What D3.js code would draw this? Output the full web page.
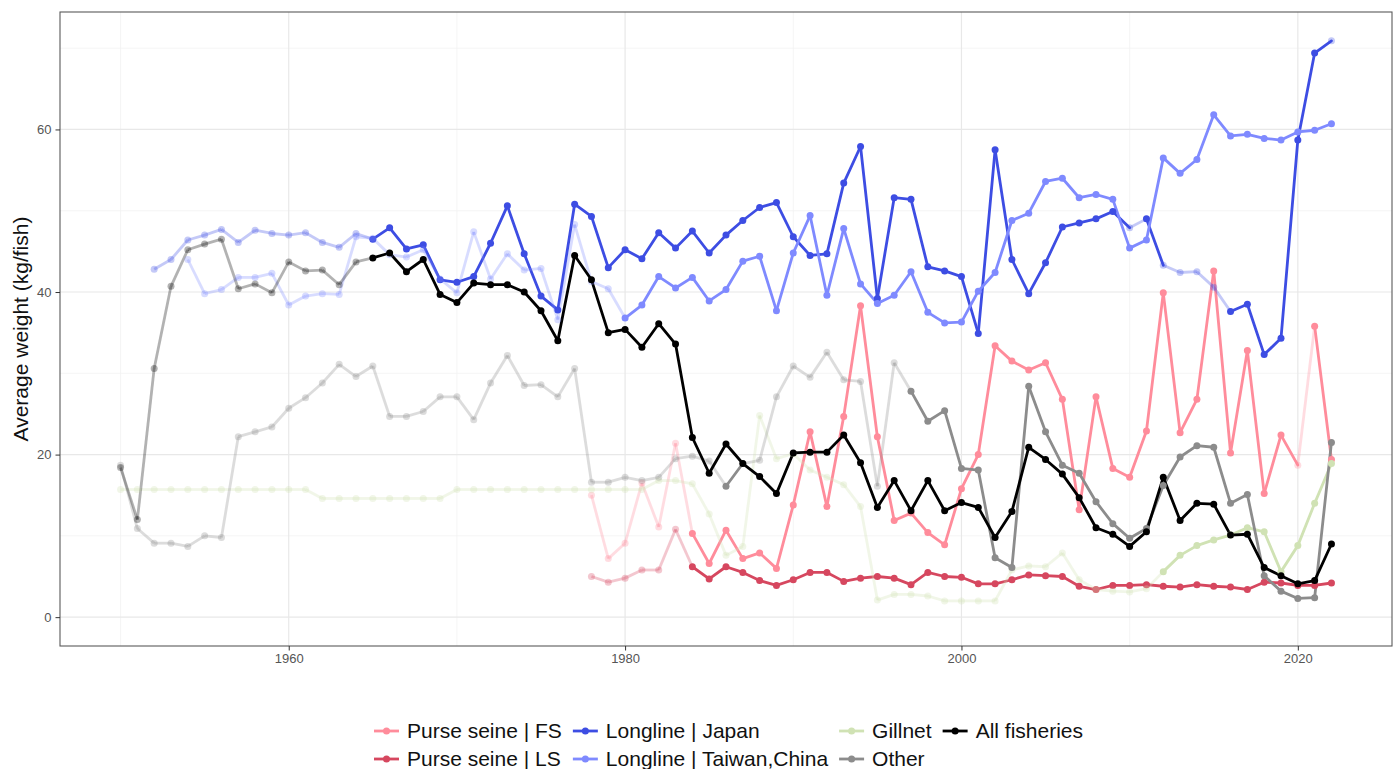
<!DOCTYPE html>
<html>
<head>
<meta charset="utf-8">
<script src="https://cdn.jsdelivr.net/npm/d3@7"></script>
<style>
  html, body { margin: 0; padding: 0; background: #fff; }
  svg { display: block; font-family: "Liberation Sans", Arial, Helvetica, sans-serif; }
</style>
</head>
<body>
<svg id="chart" width="1400" height="769"></svg>
<script>
// ---- Data: average weight (kg/fish) by fishery and year ----
const seriesNames = ["Purse seine | FS", "Purse seine | LS", "Longline | Japan",
  "Longline | Taiwan,China", "Gillnet", "Other", "All fisheries"];
const seriesColors = ["#FF8C9B", "#D6475F", "#3D4DE3", "#7F8AFF", "#D0E2B4", "#8C8C8C", "#000000"];

const fsStart = 1978;
const fsValues = [15.0, 7.2, 9.1, 16.5, 11.1, 21.4, 10.3, 6.6, 10.7, 7.2, 7.9, 6.0, 13.8, 22.8, 13.6,
  24.7, 38.3, 22.2, 11.9, 12.8, 10.4, 8.9, 15.8, 20.0, 33.4, 31.5, 30.4, 31.3, 26.8, 13.2, 27.1, 18.3,
  17.2, 22.9, 39.9, 22.7, 26.8, 42.6, 20.2, 32.8, 15.2, 22.4, 18.7, 35.8, 19.4];
const fsLowConfidence = [1978, 1979, 1980, 1981, 1982, 1983, 2020];

const lsStart = 1978;
const lsValues = [5.0, 4.3, 4.8, 5.8, 5.8, 10.8, 6.2, 4.7, 6.2, 5.5, 4.5, 3.9, 4.6, 5.5, 5.5, 4.4, 4.8,
  5.0, 4.8, 4.0, 5.5, 5.0, 4.9, 4.1, 4.1, 4.6, 5.2, 5.1, 5.0, 3.8, 3.4, 3.9, 3.9, 4.0, 3.8, 3.7, 4.0,
  3.8, 3.7, 3.4, 4.3, 4.2, 3.9, 3.9, 4.2];
const lsLowConfidence = [1978, 1979, 1980, 1981, 1982, 1983];

const japanStart = 1952;
const japanValues = [42.8, 44.0, 46.4, 47.0, 47.7, 46.1, 47.6, 47.2, 47.0, 47.3, 46.1, 45.5, 47.2,
  46.5, 47.9, 45.3, 45.8, 41.5, 41.2, 41.9, 46.0, 50.6, 44.7, 39.5, 37.8, 50.8, 49.3, 43.0, 45.2, 44.1,
  47.3, 45.4, 47.5, 44.8, 47.0, 48.8, 50.4, 51.0, 46.8, 44.5, 44.7, 53.4, 57.9, 39.2, 51.6, 51.4, 43.1,
  42.6, 41.9, 34.9, 57.5, 44.0, 39.8, 43.6, 48.0, 48.5, 49.0, 49.9, 47.9, 49.0, 43.3, 42.4, 42.5, 40.6,
  37.6, 38.5, 32.3, 34.3, 58.7, 69.4, 70.9];
const japanLowConfidence = [1952, 1953, 1954, 1955, 1956, 1957, 1958, 1959, 1960, 1961, 1962, 1963,
  1964, 2010, 2012, 2013, 2014, 2015, 2022];

const taiwanStart = 1954;
const taiwanValues = [44.0, 39.8, 40.3, 41.8, 41.8, 42.3, 38.4, 39.5, 39.8, 39.7, 46.8, 46.6, 44.6,
  44.3, 45.2, 41.6, 39.9, 47.4, 41.6, 44.7, 42.7, 42.9, 36.6, 48.3, 41.3, 40.4, 36.8, 38.4, 41.9, 40.5,
  41.8, 38.9, 40.3, 43.8, 44.4, 37.7, 44.8, 49.4, 39.6, 47.8, 41.0, 38.6, 39.6, 42.5, 37.5, 36.2, 36.3,
  40.1, 42.4, 48.8, 49.7, 53.6, 54.0, 51.6, 52.0, 51.4, 45.4, 46.4, 56.5, 54.6, 56.3, 61.8, 59.2, 59.4,
  58.9, 58.7, 59.7, 59.9, 60.7];
const taiwanLowConfidence = [1954, 1955, 1956, 1957, 1958, 1959, 1960, 1961, 1962, 1963, 1964, 1965,
  1966, 1967, 1968, 1969, 1970, 1971, 1972, 1973, 1974, 1975, 1976, 1977, 1978, 1979];

const gillnetStart = 1950;
const gillnetValues = [15.7, 15.7, 15.7, 15.7, 15.7, 15.7, 15.7, 15.7, 15.7, 15.7, 15.7, 15.7, 14.6,
  14.6, 14.6, 14.6, 14.6, 14.6, 14.6, 14.6, 15.7, 15.7, 15.7, 15.7, 15.7, 15.7, 15.7, 15.7, 15.7, 15.7,
  15.7, 15.7, 16.8, 16.8, 16.4, 12.7, 7.6, 8.7, 24.8, 19.5, 20.1, 18.1, 17.2, 16.3, 13.6, 2.1, 2.8, 2.8,
  2.6, 2.0, 2.0, 2.0, 2.0, 5.8, 6.3, 6.2, 7.9, 4.6, 3.4, 3.2, 3.1, 3.5, 5.6, 7.6, 8.8, 9.5, 10.1, 11.0,
  10.5, 5.6, 8.8, 14.0, 18.9];
const gillnetReliableFrom = 2012;

const otherStart = 1950;
const otherValues = [18.7, 10.9, 9.1, 9.1, 8.7, 10.0, 9.8, 22.2, 22.8, 23.4, 25.7, 27.0, 28.8, 31.1,
  29.6, 30.9, 24.7, 24.7, 25.3, 27.1, 27.1, 24.3, 28.8, 32.2, 28.5, 28.6, 27.1, 30.6, 16.6, 16.6, 17.2,
  16.8, 17.2, 19.5, 19.8, 19.2, 16.1, 18.9, 19.3, 27.1, 30.9, 29.5, 32.6, 29.2, 29.0, 16.1, 31.3, 27.8,
  24.1, 25.4, 18.3, 18.1, 7.3, 6.1, 28.4, 22.8, 18.7, 17.7, 14.2, 11.5, 9.7, 10.9, 16.2, 19.7, 21.1,
  20.9, 14.0, 15.1, 5.1, 3.2, 2.3, 2.4, 21.5];
const otherReliableYears = [1986];
const otherReliableFrom = 1997;

const allStart = 1950;
const allValues = [18.4, 12.0, 30.6, 40.7, 45.2, 45.9, 46.5, 40.4, 41.0, 39.9, 43.7, 42.6, 42.7, 40.9,
  43.7, 44.2, 44.8, 42.5, 44.0, 39.7, 38.7, 41.1, 40.9, 40.9, 40.0, 37.7, 34.0, 44.5, 41.5, 35.0, 35.4,
  33.2, 36.1, 33.6, 22.1, 17.7, 21.3, 18.9, 17.3, 15.2, 20.2, 20.3, 20.3, 22.4, 19.0, 13.5, 16.8, 13.1,
  16.8, 13.1, 14.1, 13.5, 9.8, 13.0, 20.9, 19.4, 17.6, 14.7, 11.0, 10.2, 8.7, 10.5, 17.2, 11.9, 14.0,
  13.9, 10.1, 10.2, 6.1, 5.1, 4.1, 4.5, 9.0];
const allReliableFrom = 1965;

const xTicks = [1960, 1980, 2000, 2020];
const xMinorTicks = [1950, 1970, 1990, 2010];
const yTicks = [0, 20, 40, 60];
const yMinorTicks = [10, 30, 50, 70];
const yTitle = "Average weight (kg/fish)";

// ---- Build point records (year, value, reliable flag) ----
function buildSeries(start, values, isReliable) {
  return values.map((v, i) => ({ year: start + i, value: v, reliable: isReliable(start + i) }));
}
const seriesData = [
  buildSeries(fsStart, fsValues, y => !fsLowConfidence.includes(y)),
  buildSeries(lsStart, lsValues, y => !lsLowConfidence.includes(y)),
  buildSeries(japanStart, japanValues, y => !japanLowConfidence.includes(y)),
  buildSeries(taiwanStart, taiwanValues, y => !taiwanLowConfidence.includes(y)),
  buildSeries(gillnetStart, gillnetValues, y => y >= gillnetReliableFrom),
  buildSeries(otherStart, otherValues, y => otherReliableYears.includes(y) || y >= otherReliableFrom),
  buildSeries(allStart, allValues, y => y >= allReliableFrom)
];

// ---- Layout ----
const svg = d3.select("#chart");
const panel = { left: 60, right: 1392, top: 12, bottom: 646 };
const fadedAlpha = 0.3;
const lineWidth = 2.8, pointRadius = 3.5;

svg.append("rect").attr("width", 1400).attr("height", 769).attr("fill", "#fff");

const x = d3.scaleLinear().domain([1946.4, 2025.6]).range([panel.left, panel.right]);
const y = d3.scaleLinear().domain([-3.55, 74.45]).range([panel.bottom, panel.top]);

// Grid
const grid = svg.append("g");
grid.selectAll(".xminor").data(xMinorTicks).join("line")
  .attr("x1", d => x(d)).attr("x2", d => x(d)).attr("y1", panel.top).attr("y2", panel.bottom)
  .attr("stroke", "#f2f2f2").attr("stroke-width", 0.8);
grid.selectAll(".yminor").data(yMinorTicks).join("line")
  .attr("y1", d => y(d)).attr("y2", d => y(d)).attr("x1", panel.left).attr("x2", panel.right)
  .attr("stroke", "#f2f2f2").attr("stroke-width", 0.8);
grid.selectAll(".xmajor").data(xTicks).join("line")
  .attr("x1", d => x(d)).attr("x2", d => x(d)).attr("y1", panel.top).attr("y2", panel.bottom)
  .attr("stroke", "#e8e8e8").attr("stroke-width", 1.2);
grid.selectAll(".ymajor").data(yTicks).join("line")
  .attr("y1", d => y(d)).attr("y2", d => y(d)).attr("x1", panel.left).attr("x2", panel.right)
  .attr("stroke", "#e8e8e8").attr("stroke-width", 1.2);

// Clip to panel
svg.append("clipPath").attr("id", "panel-clip").append("rect")
  .attr("x", panel.left).attr("y", panel.top)
  .attr("width", panel.right - panel.left).attr("height", panel.bottom - panel.top);

const plot = svg.append("g").attr("clip-path", "url(#panel-clip)");

// Lines: one segment per consecutive pair, styled by the starting point
const lineLayer = plot.append("g");
seriesData.forEach((pts, si) => {
  const segs = d3.pairs(pts);
  lineLayer.append("g").selectAll("line").data(segs).join("line")
    .attr("x1", d => x(d[0].year)).attr("y1", d => y(d[0].value))
    .attr("x2", d => x(d[1].year)).attr("y2", d => y(d[1].value))
    .attr("stroke", seriesColors[si])
    .attr("stroke-width", lineWidth)
    .attr("stroke-linecap", d => d[0].reliable ? "round" : "butt")
    .attr("stroke-opacity", d => d[0].reliable ? 1 : fadedAlpha);
});

// Points
const pointLayer = plot.append("g");
seriesData.forEach((pts, si) => {
  pointLayer.append("g").selectAll("circle").data(pts).join("circle")
    .attr("cx", d => x(d.year)).attr("cy", d => y(d.value)).attr("r", pointRadius)
    .attr("fill", seriesColors[si])
    .attr("fill-opacity", d => d.reliable ? 1 : fadedAlpha);
});

// Panel border
svg.append("rect")
  .attr("x", panel.left).attr("y", panel.top)
  .attr("width", panel.right - panel.left).attr("height", panel.bottom - panel.top)
  .attr("fill", "none").attr("stroke", "#5a5a5a").attr("stroke-width", 1.1);

// Axes
const xAxis = svg.append("g").attr("transform", `translate(0,${panel.bottom})`)
  .call(d3.axisBottom(x).tickValues(xTicks).tickFormat(d3.format("d")).tickSize(4.5).tickPadding(3));
const yAxis = svg.append("g").attr("transform", `translate(${panel.left},0)`)
  .call(d3.axisLeft(y).tickValues(yTicks).tickFormat(d3.format("d")).tickSize(4.5).tickPadding(4));
[xAxis, yAxis].forEach(ax => {
  ax.select(".domain").remove();
  ax.selectAll(".tick line").attr("stroke", "#333").attr("stroke-width", 1);
  ax.selectAll(".tick text").attr("fill", "#555")
    .style("font-family", '"Liberation Sans", Arial, sans-serif').style("font-size", "13px");
});

// Y axis title
svg.append("text")
  .attr("transform", `translate(21,${(panel.top + panel.bottom) / 2}) rotate(-90)`)
  .attr("text-anchor", "middle").attr("dy", "0.35em")
  .attr("fill", "#111").style("font-size", "21px")
  .text(yTitle);

// Legend: 2 rows, filled column by column
const legend = svg.append("g");
const keyW = 25, keyGap = 8, colGap = 11;
const rowY = [731, 759];
const legendLeft = 374;
const nCols = Math.ceil(seriesNames.length / 2);
const measure = legend.append("text").style("font-size", "21px");
const colWidths = [];
for (let c = 0; c < nCols; c++) {
  let w = 0;
  for (let r = 0; r < 2; r++) {
    const idx = c * 2 + r;
    if (idx < seriesNames.length) {
      measure.text(seriesNames[idx]);
      w = Math.max(w, measure.node().getComputedTextLength());
    }
  }
  colWidths.push(keyW + keyGap + w);
}
measure.remove();
let cx = legendLeft;
for (let c = 0; c < nCols; c++) {
  for (let r = 0; r < 2; r++) {
    const idx = c * 2 + r;
    if (idx >= seriesNames.length) continue;
    const g = legend.append("g").attr("transform", `translate(${cx},${rowY[r]})`);
    g.append("line").attr("x1", 0).attr("x2", keyW).attr("y1", 0).attr("y2", 0)
      .attr("stroke", seriesColors[idx]).attr("stroke-width", lineWidth);
    g.append("circle").attr("cx", keyW / 2).attr("cy", 0).attr("r", pointRadius).attr("fill", seriesColors[idx]);
    g.append("text").attr("x", keyW + keyGap).attr("y", 0).attr("dy", "0.35em")
      .attr("fill", "#111").style("font-size", "21px").text(seriesNames[idx]);
  }
  cx += colWidths[c] + colGap;
}
</script>
</body>
</html>
